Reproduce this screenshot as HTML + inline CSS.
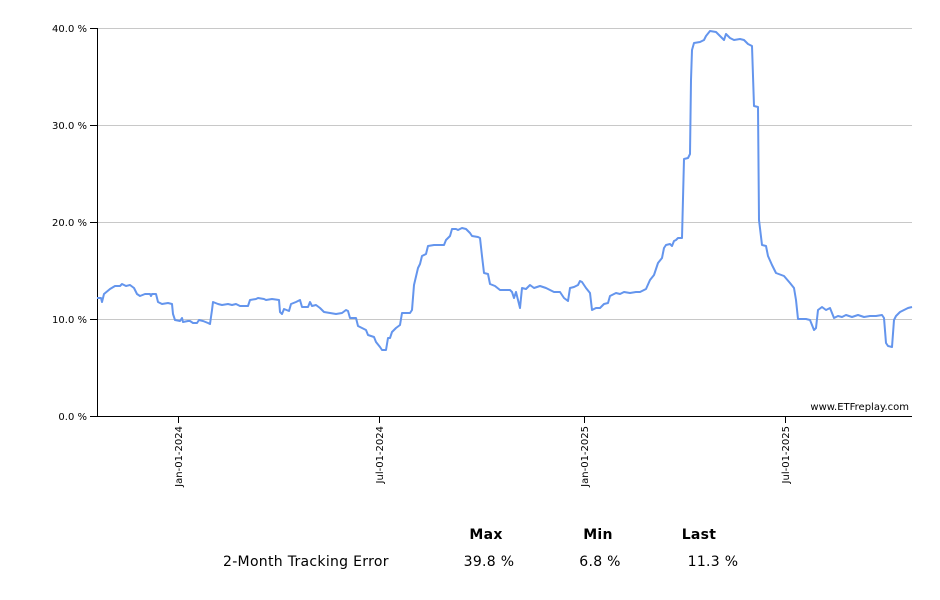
<!DOCTYPE html>
<html><head><meta charset="utf-8"><style>
body{margin:0;background:#fff;width:940px;height:600px;overflow:hidden;font-family:"DejaVu Sans","Liberation Sans",sans-serif;}
</style></head><body>
<svg width="940" height="600" xmlns="http://www.w3.org/2000/svg" style="position:absolute;left:0;top:0">
<g stroke="#c8c8c8" stroke-width="1">
<line x1="97" y1="28.5" x2="912" y2="28.5"/>
<line x1="97" y1="125.5" x2="912" y2="125.5"/>
<line x1="97" y1="222.5" x2="912" y2="222.5"/>
<line x1="97" y1="319.5" x2="912" y2="319.5"/>
</g>
<g stroke="#000" stroke-width="1">
<line x1="97.5" y1="28" x2="97.5" y2="416"/>
<line x1="97" y1="416.5" x2="912" y2="416.5"/>
<line x1="90" y1="28.5" x2="97" y2="28.5"/>
<line x1="90" y1="125.5" x2="97" y2="125.5"/>
<line x1="90" y1="222.5" x2="97" y2="222.5"/>
<line x1="90" y1="319.5" x2="97" y2="319.5"/>
<line x1="90" y1="416.5" x2="97" y2="416.5"/>
<line x1="178.5" y1="416" x2="178.5" y2="423"/>
<line x1="379.5" y1="416" x2="379.5" y2="423"/>
<line x1="584.5" y1="416" x2="584.5" y2="423"/>
<line x1="785.5" y1="416" x2="785.5" y2="423"/>
</g>
<g font-size="10" fill="#000" text-anchor="end">
<text x="87" y="32">40.0 %</text>
<text x="87" y="129">30.0 %</text>
<text x="87" y="226">20.0 %</text>
<text x="87" y="323">10.0 %</text>
<text x="87" y="420">0.0 %</text>
</g>
<g font-size="10" fill="#000" text-anchor="end">
<text transform="translate(182,426) rotate(-90)">Jan-01-2024</text>
<text transform="translate(383,426) rotate(-90)">Jul-01-2024</text>
<text transform="translate(588,426) rotate(-90)">Jan-01-2025</text>
<text transform="translate(789,426) rotate(-90)">Jul-01-2025</text>
</g>
<text x="909" y="410" font-size="10" text-anchor="end" fill="#000">www.ETFreplay.com</text>
<polyline fill="none" stroke="#6495ed" stroke-width="2" stroke-linejoin="round" points="97,298 101,298 102,302 104,294 110,289 115,286 120,286 122,284 126,286 130,285 134,288 137,294 140,296 145,294 150,294 151,296 152,294 156,294 158,302 162,304 168,303 172,304 173,314 175,320 180,321 182,318 183,322 188,321 190,321 193,323 197,323 199,320 203,321 208,323 210,324 212,310 213,302 218,304 222,305 228,304 232,305 236,304 240,306 248,306 250,300 256,299 258,298 264,299 266,300 272,299 279,300 280,312 282,314 284,309 289,311 291,304 296,302 300,300 302,307 308,307 310,302 312,306 316,305 320,308 324,312 330,313 336,314 342,313 346,310 348,311 350,318 356,318 358,326 362,328 366,330 368,335 374,337 376,342 380,347 382,350 386,350 388,338 390,338 392,332 396,328 400,325 402,313 410,313 412,310 414,285 418,268 420,264 422,256 426,254 428,246 434,245 444,245 446,240 450,236 452,229 456,229 458,230 462,228 466,229 470,233 472,236 478,237 480,238 482,256 484,273 488,274 490,284 495,286 500,290 510,290 512,292 514,298 516,292 518,300 520,308 522,288 526,289 530,285 534,288 540,286 546,288 550,290 554,292 560,292 564,298 568,301 570,288 574,287 578,285 580,281 582,282 586,288 590,293 592,310 596,308 600,308 604,304 608,303 610,296 616,293 620,294 624,292 630,293 636,292 640,292 646,289 650,280 654,275 658,263 662,258 664,248 666,245 670,244 672,246 674,241 676,240 678,238 682,238 684,159 688,158 690,154 691,80 692,50 694,43 700,42 704,40 706,36 710,31 716,32 720,36 724,40 726,34 730,38 734,40 740,39 744,40 748,44 752,46 754,106 758,107 759,220 762,245 766,246 768,256 772,265 776,273 784,276 790,283 794,288 796,300 798,319 806,319 810,320 814,330 816,328 818,310 822,307 826,310 830,308 834,318 838,316 842,317 846,315 852,317 858,315 864,317 870,316 876,316 882,315 884,318 886,343 888,346 892,347 894,320 896,316 900,312 904,310 908,308 912,307"/>
<g font-size="14" fill="#000" letter-spacing="0.3">
<text x="486" y="539" text-anchor="middle" font-weight="bold">Max</text>
<text x="598" y="539" text-anchor="middle" font-weight="bold">Min</text>
<text x="699" y="539" text-anchor="middle" font-weight="bold">Last</text>
<text x="223" y="566">2-Month Tracking Error</text>
<text x="489" y="566" text-anchor="middle">39.8 %</text>
<text x="600" y="566" text-anchor="middle">6.8 %</text>
<text x="713" y="566" text-anchor="middle">11.3 %</text>
</g>
</svg>
</body></html>
